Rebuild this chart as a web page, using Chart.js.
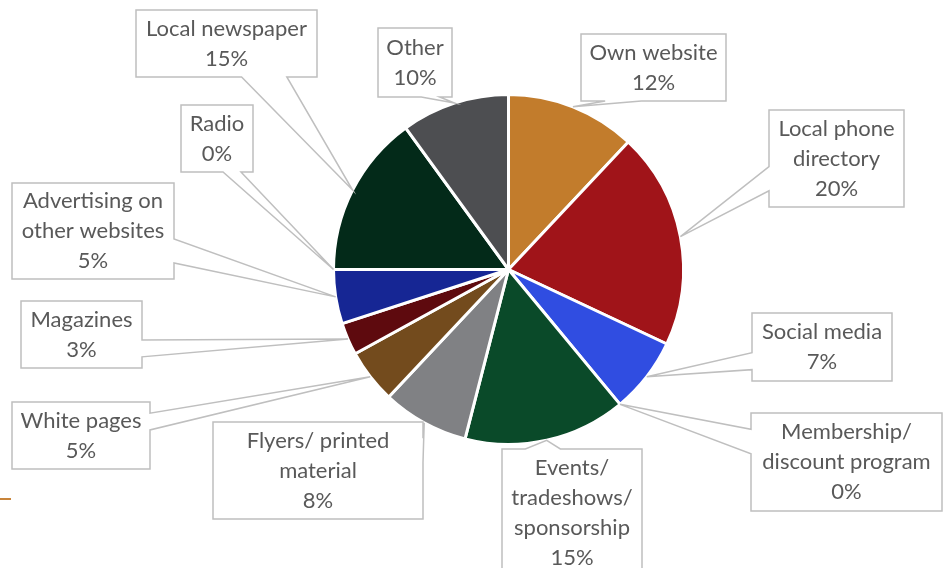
<!DOCTYPE html>
<html>
<head>
<meta charset="utf-8">
<script src="https://cdn.jsdelivr.net/npm/chart.js@4.4.0/dist/chart.umd.min.js"></script>
<style>
  body { margin: 0; background: #fff; }
  #wrap { width: 945px; height: 568px; }
</style>
</head>
<body>
<div id="wrap"><canvas id="pieChart" width="945" height="568"></canvas></div>
<script>
// Marketing channels, share of responses (%)
const categories = ['Own website', 'Local phone directory', 'Social media', 'Membership/ discount program',
  'Events/ tradeshows/ sponsorship', 'Flyers/ printed material', 'White pages', 'Magazines',
  'Advertising on other websites', 'Radio', 'Local newspaper', 'Other'];
const shares = [12, 20, 7, 0, 15, 8, 5, 3, 5, 0, 15, 10];
const sliceColors = ['#c27c2c', '#a01419', '#304de1', '#8e8e8e', '#0a4a29', '#808184',
  '#734b1d', '#5e0a0e', '#162694', '#999999', '#032a19', '#4d4e51'];

// how each category name wraps inside its callout
const labelLines = [
  ['Own website'], ['Local phone', 'directory'], ['Social media'], ['Membership/', 'discount program'],
  ['Events/', 'tradeshows/', 'sponsorship'], ['Flyers/ printed', 'material'], ['White pages'], ['Magazines'],
  ['Advertising on', 'other websites'], ['Radio'], ['Local newspaper'], ['Other']
];

// callout boxes: left, top, width, height
const calloutBoxes = [
  [581, 34, 145, 67], [769, 110, 135, 97], [752, 313, 140, 68], [751, 413, 191, 98],
  [502, 449, 140, 127], [213, 422, 210, 97], [12, 402, 138, 67], [21, 301, 121, 67],
  [12, 183, 162, 96], [181, 105, 72, 67], [136, 10, 181, 67], [378, 28, 74, 69]
];

// rectangle with a wedge pointing at (px, py), like an office callout shape
function wedgePath(ctx, l, t, w, h, px, py) {
  const r = l + w, b = t + h;
  const dx = px - (l + w / 2), dy = py - (t + h / 2);
  const x1 = l + w * (dx > 0 ? 7 : 2) / 12, x2 = l + w * (dx > 0 ? 10 : 5) / 12;
  const y1 = t + h * (dy > 0 ? 7 : 2) / 12, y2 = t + h * (dy > 0 ? 10 : 5) / 12;
  const vertical = Math.abs(dy) > Math.abs(dx * h / w);
  ctx.beginPath();
  ctx.moveTo(l, t);
  if (vertical && dy < 0) { ctx.lineTo(x1, t); ctx.lineTo(px, py); ctx.lineTo(x2, t); }
  ctx.lineTo(r, t);
  if (!vertical && dx > 0) { ctx.lineTo(r, y1); ctx.lineTo(px, py); ctx.lineTo(r, y2); }
  ctx.lineTo(r, b);
  if (vertical && dy > 0) { ctx.lineTo(x2, b); ctx.lineTo(px, py); ctx.lineTo(x1, b); }
  ctx.lineTo(l, b);
  if (!vertical && dx < 0) { ctx.lineTo(l, y2); ctx.lineTo(px, py); ctx.lineTo(l, y1); }
  ctx.closePath();
}

const calloutPlugin = {
  id: 'callouts',
  afterDraw(chart) {
    const ctx = chart.ctx;
    const arcs = chart.getDatasetMeta(0).data;
    const tips = arcs.map(arc => {
      const p = arc.getProps(['x', 'y', 'startAngle', 'endAngle', 'outerRadius'], true);
      const mid = (p.startAngle + p.endAngle) / 2;
      return [p.x + Math.cos(mid) * p.outerRadius, p.y + Math.sin(mid) * p.outerRadius];
    });
    ctx.save();
    // fill every box first so no outline gets covered
    tips.forEach(([tx, ty], i) => {
      const [bx, by, bw, bh] = calloutBoxes[i];
      wedgePath(ctx, bx, by, bw, bh, tx, ty);
      ctx.fillStyle = '#fff';
      ctx.fill();
    });
    ctx.strokeStyle = '#bfbfbf';
    ctx.lineWidth = 1.5;
    tips.forEach(([tx, ty], i) => {
      const [bx, by, bw, bh] = calloutBoxes[i];
      wedgePath(ctx, bx, by, bw, bh, tx, ty);
      ctx.stroke();
    });
    ctx.font = '22px Lato';
    ctx.textAlign = 'center';
    ctx.textBaseline = 'middle';
    ctx.fillStyle = '#595959';
    labelLines.forEach((name, i) => {
      const [bx, by, bw, bh] = calloutBoxes[i];
      const lines = name.concat(shares[i] + '%');
      const cy = by + bh / 2;
      lines.forEach((txt, k) => ctx.fillText(txt, bx + bw / 2, cy + (k - (lines.length - 1) / 2) * 30));
    });
    // short accent rule at the left edge
    ctx.fillStyle = '#c8843a';
    ctx.fillRect(0, 498, 11, 2);
    ctx.restore();
  }
};

new Chart(document.getElementById('pieChart'), {
  type: 'pie',
  data: {
    labels: categories,
    datasets: [{
      data: shares,
      backgroundColor: sliceColors,
      borderColor: '#fff',
      borderWidth: 3
    }]
  },
  options: {
    responsive: false,
    animation: false,
    layout: { padding: { left: 332, right: 260, top: 93, bottom: 122 } },
    plugins: {
      legend: { display: false },
      tooltip: { enabled: false }
    }
  },
  plugins: [calloutPlugin]
});
</script>
</body>
</html>
